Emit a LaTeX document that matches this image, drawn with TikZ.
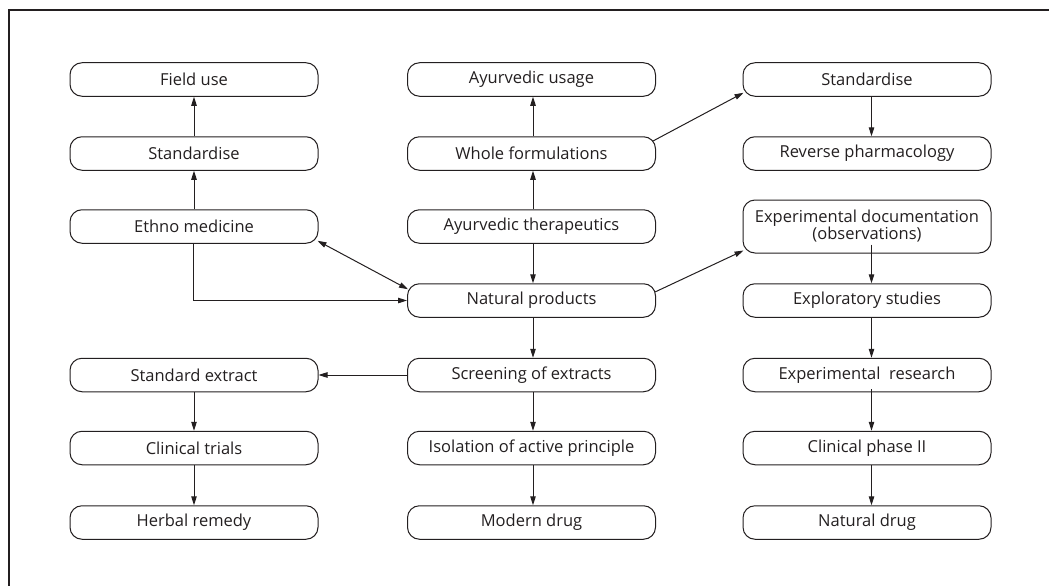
\documentclass[tikz,border=0pt]{standalone}
\usepackage{fontspec}
\setmainfont{Open Sans}
\usetikzlibrary{arrows.meta,calc}
\definecolor{ink}{HTML}{231F20}
\begin{document}
\begin{tikzpicture}[x=1pt,y=-1pt,
  box/.style={draw=ink,line width=1pt,rounded corners=12pt,minimum width=248pt,minimum height=33.5pt,inner sep=0pt,text=ink,font=\fontsize{16.5}{19}\selectfont,align=center},
  conn/.style={draw=ink,line width=1pt,-{Triangle[length=9pt,width=5.5pt]}},
  biconn/.style={draw=ink,line width=1pt,{Triangle[length=9pt,width=5.5pt]}-{Triangle[length=9pt,width=5.5pt]}}]
\useasboundingbox (0,0) rectangle (1049,586);
\draw[ink,line width=1.4pt] (9,586) -- (9,10) -- (1049,10);
% left column
\node[box] (field) at (194,79.5) {Field use};
\node[box] (stdL) at (194,153.5) {Standardise};
\node[box] (ethno) at (194,226.5) {Ethno medicine};
\node[box] (sext) at (194,375) {Standard extract};
\node[box] (clin) at (194,448) {Clinical trials};
\node[box] (herb) at (194,522.5) {Herbal remedy};
% middle column
\node[box] (ayu) at (531.5,79.5) {Ayurvedic usage};
\node[box] (whole) at (531.5,153.5) {Whole formulations};
\node[box] (ather) at (531.5,226.5) {Ayurvedic therapeutics};
\node[box] (np) at (531.5,300.5) {Natural products};
\node[box] (scr) at (531.5,375) {Screening of extracts};
\node[box] (iso) at (531.5,448) {Isolation of active principle};
\node[box] (mod) at (531.5,522.5) {Modern drug};
% right column
\node[box] (stdR) at (867,79.5) {Standardise};
\node[box] (rev) at (867,153.5) {Reverse pharmacology};
\node[box,minimum height=53pt] (expdoc) at (867,226.5) {Experimental documentation\\[-2pt](observations)};
\node[box] (explo) at (867,300.5) {Exploratory studies};
\node[box] (expres) at (867,375) {Experimental~~research};
\node[box] (cph) at (867,448) {Clinical phase II};
\node[box] (ndrug) at (867,522.5) {Natural drug};
% left arrows
\draw[conn] (stdL.north) -- (field.south);
\draw[conn] (ethno.north) -- (stdL.south);
\draw[conn] (sext.south) -- (clin.north);
\draw[conn] (clin.south) -- (herb.north);
\draw[conn] ($(ethno.south)+(-1,0)$) |- (np.west);
\draw[biconn] ($(ethno.south east)+(-1,-3)$) -- ($(np.north west)+(1,6)$);
% middle arrows
\draw[conn] ($(whole.north)+(1.5,0)$) -- ($(ayu.south)+(1.5,0)$);
\draw[conn] ($(ather.north)+(1.5,0)$) -- ($(whole.south)+(1.5,0)$);
\draw[conn] ($(ather.south)+(1.5,0)$) -- ($(np.north)+(1.5,0)$);
\draw[conn] ($(np.south)+(1.5,0)$) -- ($(scr.north)+(1.5,0)$);
\draw[conn] ($(scr.south)+(1.5,0)$) -- ($(iso.north)+(1.5,0)$);
\draw[conn] ($(iso.south)+(1.5,0)$) -- ($(mod.north)+(1.5,0)$);
\draw[conn] (scr.west) -- (sext.east);
\draw[conn] ($(whole.east)+(-3,-12.5)$) -- ($(stdR.south west)+(1,-4)$);
\draw[conn] ($(np.east)+(-1,-8.5)$) -- ($(expdoc.south west)+(1,-3)$);
% right arrows
\draw[conn] ($(stdR.south)+(4.5,0)$) -- ($(rev.north)+(4.5,0)$);
\draw[conn] ($(expdoc.south)+(4.5,-9)$) -- ($(explo.north)+(4.5,0)$);
\draw[conn] ($(explo.south)+(4.5,0)$) -- ($(expres.north)+(4.5,0)$);
\draw[conn] ($(expres.south)+(4.5,-3)$) -- ($(cph.north)+(4.5,0)$);
\draw[conn] ($(cph.south)+(4.5,0)$) -- ($(ndrug.north)+(4.5,0)$);
\end{tikzpicture}
\end{document}
